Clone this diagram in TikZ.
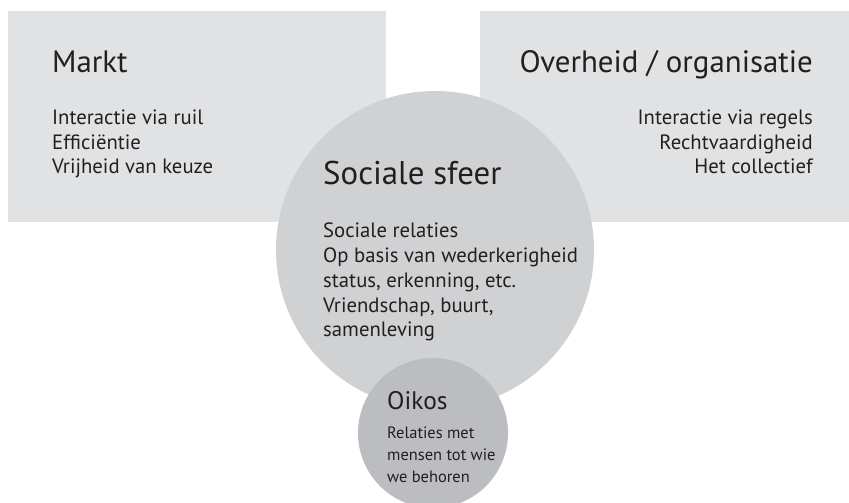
\documentclass[tikz,border=0pt]{standalone}
\usepackage{fontspec}
\setmainfont{PT Sans}
\usetikzlibrary{shapes}

\definecolor{boxcol}{RGB}{225,226,228}
\definecolor{sfeercol}{RGB}{208,209,211}
\definecolor{oikoscol}{RGB}{188,189,192}
\definecolor{textcol}{RGB}{35,31,32}

\tikzset{
  kop/.style={inner sep=0pt,text=textcol,font=\fontsize{31}{36}\selectfont},
  tekst/.style={inner sep=0pt,text=textcol,font=\fontsize{20.8}{25}\selectfont},
}

\begin{document}
\begin{tikzpicture}[line join=bevel]

\useasboundingbox (0bp,0bp) rectangle (849bp,503bp);

% Box: Markt
\fill [boxcol] (8bp,281bp) rectangle (386bp,492bp);

% Box: Overheid
\fill [boxcol] (480bp,281bp) rectangle (849bp,492bp);

% Circle: Sociale sfeer
\fill [sfeercol] (435bp,253bp) circle (159bp);

% Circle: Oikos
\fill [oikoscol] (433bp,70bp) circle (75bp);

% Node: Markt (base = last line)
\node (markt) [kop,anchor=base west] at (52bp,430bp) {Markt};
\node (marktTxt) [tekst,anchor=base west,align=left] at (52bp,329bp)
  {Interactie via ruil\\Efficiëntie\\Vrijheid van keuze};

% Node: Overheid
\node (overheid) [kop,anchor=base east] at (813bp,430bp) {Overheid / organisatie};
\node (overheidTxt) [tekst,anchor=base east,align=right] at (813bp,329bp)
  {Interactie via regels\\Rechtvaardigheid\\Het collectief};

% Node: Sociale sfeer
\node (sfeer) [kop,font=\fontsize{33}{38}\selectfont,anchor=base west] at (323bp,318bp) {Sociale sfeer};
\node (sfeerTxt) [tekst,anchor=base west,align=left] at (323bp,166bp)
  {Sociale relaties\\Op basis van wederkerigheid\\status, erkenning, etc.\\Vriendschap, buurt,\\samenleving};

% Node: Oikos
\node (oikos) [kop,font=\fontsize{25.5}{30}\selectfont,anchor=base west] at (387bp,93bp) {Oikos};
\node (oikosTxt) [tekst,font=\fontsize{16.5}{22}\selectfont,anchor=base west,align=left] at (387bp,21bp)
  {Relaties met\\mensen tot wie\\we behoren};

\end{tikzpicture}
\end{document}
